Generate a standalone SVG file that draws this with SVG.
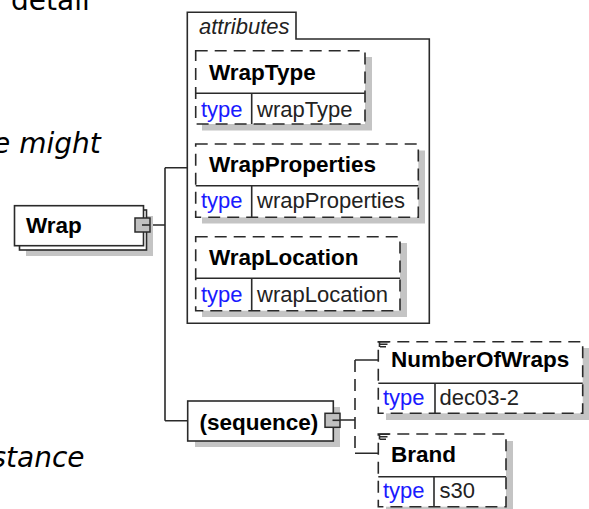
<svg xmlns="http://www.w3.org/2000/svg" width="589" height="509" viewBox="0 0 589 509">
<style>
.frag{font-family:"DejaVu Sans",Verdana,sans-serif;font-size:28px;fill:#000}
.it{font-style:italic}
.box{fill:#fff;stroke:#2a2a2a;stroke-width:1.6}
.dash{stroke-dasharray:12 7}
.shadow{fill:#c4c4c4}
.line{fill:none;stroke:#2a2a2a;stroke-width:1.6}
.sq{fill:#c0c0c0;stroke:#2a2a2a;stroke-width:1.5}
.name{font-family:"Liberation Sans",Arial,sans-serif;font-size:22.5px;font-weight:bold;fill:#000}
.lbl{font-family:"Liberation Sans",Arial,sans-serif;font-size:22px;fill:#1a1aff}
.val{font-family:"Liberation Sans",Arial,sans-serif;font-size:22px;fill:#222}
.attr{font-family:"Liberation Sans",Arial,sans-serif;font-size:22px;font-style:italic;fill:#222}
</style>
<rect width="589" height="509" fill="#fff"/>
<text class="frag" x="11" y="9.5" font-size="30">detail</text>
<text class="frag it" x="-7" y="153">e might</text>
<text class="frag it" x="-8.5" y="466.5">stance</text>

<g id="connectors">
<path class="line" d="M142,225 H165 M165,167.7 V420.7 M165,167.7 H187.3 M165,420.7 H187.7"/>
<path class="line" d="M333,420 H355 M355,360 H378.3 M355,453.3 H378.3"/>
<path class="line dash" d="M355,360 V453.3"/>
</g>

<g id="node-Wrap">
<rect class="shadow" x="26" y="216" width="127" height="40"/>
<rect class="box" x="19.5" y="210" width="127" height="40"/>
<rect class="box" x="14.5" y="205.7" width="129" height="40"/>
<text class="name" x="26" y="233">Wrap</text>
<rect class="sq" x="135" y="218" width="15" height="14"/>
<path class="line" d="M142,225 H150"/>
</g>

<g id="attributes">
<path class="line" d="M187.3,323.3 V12.3 H296 V39 H429.3 V323.3 Z"/>
<text class="attr" x="199" y="34.3">attributes</text>
</g>

<g id="node-WrapType">
<rect class="shadow" x="202" y="57" width="170" height="73.5"/>
<rect class="box dash" x="195.7" y="50.7" width="169.3" height="73.3"/>
<path class="line" d="M195.7,93.3 H365 M251.7,93.3 V124"/>
<text class="name" x="209" y="80">WrapType</text>
<text class="lbl" x="201" y="116.7">type</text>
<text class="val" x="257" y="116.7">wrapType</text>
</g>

<g id="node-WrapProperties">
<rect class="shadow" x="202" y="150.5" width="223" height="73"/>
<rect class="box dash" x="195.7" y="144" width="222.6" height="73.3"/>
<path class="line" d="M195.7,185.7 H418.3 M251.7,185.7 V217.3"/>
<text class="name" x="209" y="171.7">WrapProperties</text>
<text class="lbl" x="201" y="208.3">type</text>
<text class="val" x="257" y="208.3">wrapProperties</text>
</g>

<g id="node-WrapLocation">
<rect class="shadow" x="202" y="243" width="205" height="74"/>
<rect class="box dash" x="195.7" y="236.7" width="204.3" height="74"/>
<path class="line" d="M195.7,278.3 H400 M251.7,278.3 V310.7"/>
<text class="name" x="209" y="265">WrapLocation</text>
<text class="lbl" x="201" y="301.7">type</text>
<text class="val" x="257" y="301.7">wrapLocation</text>
</g>

<g id="node-sequence">
<rect class="shadow" x="195" y="407" width="145" height="40"/>
<rect class="box" x="187.7" y="401" width="145.6" height="40"/>
<text class="name" x="199.5" y="429.5" font-size="23.5">(sequence)</text>
<rect class="sq" x="325" y="413.3" width="15" height="14"/>
<path class="line" d="M332.5,420.3 H340"/>
</g>

<g id="node-NumberOfWraps">
<rect class="shadow" x="386" y="348" width="204" height="72"/>
<rect class="box dash" x="378.3" y="341.7" width="204.4" height="71.6"/>
<path class="line" d="M378.3,383.3 H582.7 M435,383.3 V413.3"/>
<path class="line" stroke-width="1" d="M379.5,341.5 V347 M379.5,341.8 H389.5 M380,344.3 H387.5 M380,346.8 H386"/>
<text class="name" x="391" y="367.3">NumberOfWraps</text>
<text class="lbl" x="383" y="405">type</text>
<text class="val" x="439.5" y="405">dec03-2</text>
</g>

<g id="node-Brand">
<rect class="shadow" x="386" y="441" width="127" height="72"/>
<rect class="box dash" x="378.3" y="434" width="127.7" height="72.7"/>
<path class="line" d="M378.3,476.7 H506 M434,476.7 V506.7"/>
<path class="line" stroke-width="1" d="M379.5,434 V439.5 M379.5,434.3 H389.5 M380,436.8 H387.5 M380,439.3 H386"/>
<text class="name" x="391" y="461.7">Brand</text>
<text class="lbl" x="383" y="498.3">type</text>
<text class="val" x="439.5" y="498.3">s30</text>
</g>
</svg>
